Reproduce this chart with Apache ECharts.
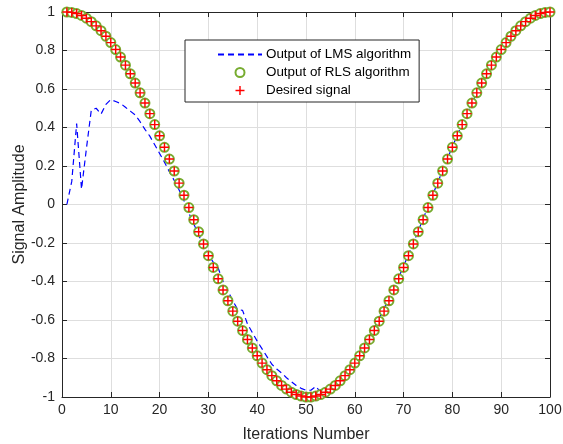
<!DOCTYPE html>
<html>
<head>
<meta charset="utf-8">
<script src="https://cdn.jsdelivr.net/npm/echarts@6/dist/echarts.min.js"></script>
<style>
html,body{margin:0;padding:0;background:#fff;}
#chart{width:563px;height:444px;}
</style>
</head>
<body>
<div id="chart"></div>
<script>
// Series names
var seriesNames = ['Output of LMS algorithm', 'Output of RLS algorithm', 'Desired signal'];

// Desired signal (iterations 1..100)
var desired = [
 1.000, 0.998, 0.992, 0.982, 0.968, 0.950, 0.928, 0.903, 0.874, 0.841,
 0.805, 0.766, 0.724, 0.679, 0.631, 0.580, 0.527, 0.472, 0.415, 0.357,
 0.297, 0.236, 0.174, 0.111, 0.048, -0.016, -0.079, -0.142, -0.205, -0.266,
 -0.327, -0.386, -0.444, -0.500, -0.554, -0.606, -0.655, -0.701, -0.745, -0.786,
 -0.824, -0.858, -0.889, -0.916, -0.940, -0.959, -0.975, -0.987, -0.995, -1.000,
 -1.000, -0.995, -0.987, -0.975, -0.959, -0.940, -0.916, -0.889, -0.858, -0.824,
 -0.786, -0.745, -0.701, -0.655, -0.606, -0.554, -0.500, -0.444, -0.386, -0.327,
 -0.266, -0.205, -0.142, -0.079, -0.016, 0.048, 0.111, 0.174, 0.236, 0.297,
 0.357, 0.415, 0.472, 0.527, 0.580, 0.631, 0.679, 0.724, 0.766, 0.805,
 0.841, 0.874, 0.903, 0.928, 0.950, 0.968, 0.982, 0.992, 0.998, 1.000
];

// Output of RLS algorithm (iterations 1..100)
var rlsOutput = [
 1.000, 0.998, 0.992, 0.982, 0.968, 0.950, 0.928, 0.903, 0.874, 0.841,
 0.805, 0.766, 0.724, 0.679, 0.631, 0.580, 0.527, 0.472, 0.415, 0.357,
 0.297, 0.236, 0.174, 0.111, 0.048, -0.016, -0.079, -0.142, -0.205, -0.266,
 -0.327, -0.386, -0.444, -0.500, -0.554, -0.606, -0.655, -0.701, -0.745, -0.786,
 -0.824, -0.858, -0.889, -0.916, -0.940, -0.959, -0.975, -0.987, -0.995, -1.000,
 -1.000, -0.995, -0.987, -0.975, -0.959, -0.940, -0.916, -0.889, -0.858, -0.824,
 -0.786, -0.745, -0.701, -0.655, -0.606, -0.554, -0.500, -0.444, -0.386, -0.327,
 -0.266, -0.205, -0.142, -0.079, -0.016, 0.048, 0.111, 0.174, 0.236, 0.297,
 0.357, 0.415, 0.472, 0.527, 0.580, 0.631, 0.679, 0.724, 0.766, 0.805,
 0.841, 0.874, 0.903, 0.928, 0.950, 0.968, 0.982, 0.992, 0.998, 1.000
];

// Output of LMS algorithm (iterations 1..100)
var lmsOutput = [
 0.000, 0.120, 0.420, 0.080, 0.290, 0.490, 0.500, 0.470, 0.520, 0.545,
 0.535, 0.525, 0.505, 0.485, 0.465, 0.430, 0.390, 0.355, 0.310, 0.265,
 0.220, 0.170, 0.125, 0.075, 0.020, -0.045, -0.100, -0.160, -0.210, -0.260,
 -0.300, -0.330, -0.400, -0.450, -0.500, -0.545, -0.550, -0.620, -0.665, -0.710,
 -0.750, -0.790, -0.830, -0.855, -0.875, -0.900, -0.920, -0.940, -0.955, -0.965,
 -0.965, -0.945, -0.975, -0.965, -0.950, -0.930, -0.900, -0.870, -0.835, -0.800,
 -0.765, -0.725, -0.685, -0.640, -0.590, -0.540, -0.490, -0.435, -0.378, -0.320,
 -0.260, -0.200, -0.137, -0.075, -0.012, 0.052, 0.115, 0.177, 0.240, 0.300,
 0.360, 0.418, 0.474, 0.528, 0.581, 0.632, 0.680, 0.725, 0.767, 0.806,
 0.842, 0.875, 0.904, 0.929, 0.951, 0.969, 0.983, 0.993, 0.999, 1.000
];

function pairs(arr) {
  return arr.map(function (v, i) { return [i + 1, v]; });
}

var FONT = "'Liberation Sans', Arial, sans-serif";
var AX = '#262626';
var GREEN = '#77ac30';
var PLUS = 'path://M4.2,0H5.8V4.2H10V5.8H5.8V10H4.2V5.8H0V4.2H4.2Z';

var chart = echarts.init(document.getElementById('chart'), null, {renderer: 'canvas'});

var tickInside = {show: true, inside: true, length: 5, lineStyle: {color: AX, width: 1}};

chart.setOption({
  animation: false,
  backgroundColor: '#fff',
  textStyle: {fontFamily: FONT},
  grid: {left: 62, right: 13, top: 12, bottom: 47, containLabel: false, outerBoundsMode: 'none'},
  legend: {
    orient: 'vertical',
    left: 185,
    top: 40,
    padding: [8, 8, 5, 32],
    itemWidth: 44,
    itemHeight: 9,
    itemGap: 5,
    backgroundColor: '#fff',
    borderColor: AX,
    borderWidth: 1,
    borderRadius: 0,
    textStyle: {fontFamily: FONT, fontSize: 13.4, color: '#000', padding: [0, 0, 0, -1]},
    data: [
      {name: seriesNames[0], itemStyle: {opacity: 0}},
      {name: seriesNames[1]},
      {name: seriesNames[2]}
    ]
  },
  xAxis: [{
    type: 'value', min: 0, max: 100, interval: 10,
    name: 'Iterations Number', nameLocation: 'middle', nameGap: 30,
    nameMoveOverlap: false,
    nameTextStyle: {fontFamily: FONT, fontSize: 16, color: AX},
    axisLine: {show: true, onZero: false, lineStyle: {color: AX, width: 1}},
    axisTick: tickInside,
    axisLabel: {fontFamily: FONT, fontSize: 14, color: AX, margin: 6},
    splitLine: {show: true, lineStyle: {color: '#dedede', width: 1}}
  }, {
    type: 'value', min: 0, max: 100, interval: 10, position: 'top',
    axisLine: {show: true, onZero: false, lineStyle: {color: AX, width: 1}},
    axisTick: tickInside,
    axisLabel: {show: false},
    splitLine: {show: false}
  }],
  yAxis: [{
    type: 'value', min: -1, max: 1, interval: 0.2,
    name: 'Signal Amplitude', nameLocation: 'middle', nameGap: 34,
    nameMoveOverlap: false,
    nameTextStyle: {fontFamily: FONT, fontSize: 16, color: AX},
    axisLine: {show: true, onZero: false, lineStyle: {color: AX, width: 1}},
    axisTick: tickInside,
    axisLabel: {fontFamily: FONT, fontSize: 14, color: AX, margin: 7},
    splitLine: {show: true, lineStyle: {color: '#dedede', width: 1}}
  }, {
    type: 'value', min: -1, max: 1, interval: 0.2, position: 'right',
    axisLine: {show: true, onZero: false, lineStyle: {color: AX, width: 1}},
    axisTick: tickInside,
    axisLabel: {show: false},
    splitLine: {show: false}
  }],
  series: [{
    name: seriesNames[0],
    type: 'line',
    data: pairs(lmsOutput),
    showSymbol: false,
    symbol: 'none',
    color: '#0000ff',
    lineStyle: {color: '#0000ff', width: 1.2, type: [6, 4]},
    z: 2
  }, {
    name: seriesNames[1],
    type: 'scatter',
    data: pairs(rlsOutput),
    symbol: 'emptyCircle',
    symbolSize: 9,
    color: GREEN,
    itemStyle: {color: GREEN, borderColor: GREEN, borderWidth: 1.5, opacity: 1},
    z: 3
  }, {
    name: seriesNames[2],
    type: 'scatter',
    data: pairs(desired),
    symbol: PLUS,
    symbolSize: 9,
    color: '#ff0000',
    itemStyle: {color: '#ff0000', opacity: 1},
    z: 4
  }]
});
</script>
</body>
</html>
